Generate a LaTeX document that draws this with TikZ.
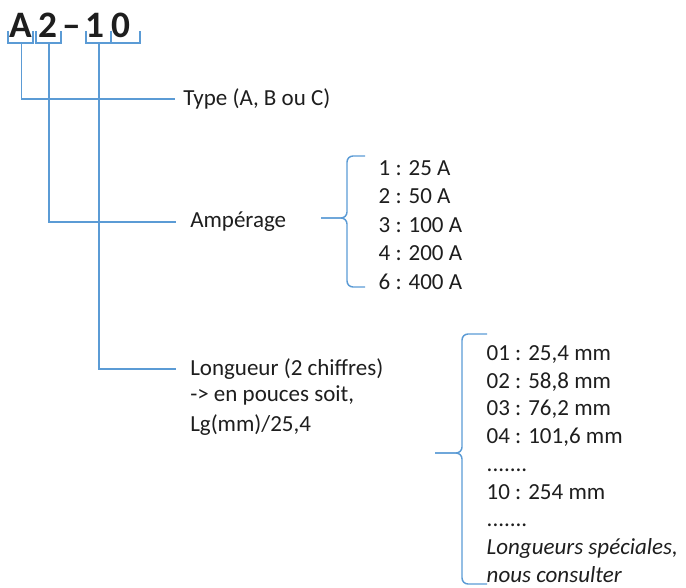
\documentclass[tikz,border=0pt]{standalone}
\usepackage{fontspec}
\setmainfont{Carlito}
\usetikzlibrary{positioning}

\definecolor{lienbleu}{RGB}{91,155,213}
\definecolor{texte}{RGB}{30,30,30}

\tikzset{
	lien/.style={draw=lienbleu,line width=1.1pt},
	accol/.style={lien,rounded corners=4.5pt},
	lettre/.style={anchor=base,inner sep=0pt,text=texte,font=\fontsize{28}{32}\selectfont\bfseries},
	libelle/.style={anchor=west,text=texte,font=\fontsize{17.25}{20.7}\selectfont},
}

\begin{document}
\begin{tikzpicture}[x=0.75pt,y=-0.75pt]
			\useasboundingbox (0,0) rectangle (686,588);
			% code produit
			\node[lettre] (cA) at (21,38) {A};
			\node[lettre] (c2) at (47.5,38) {2};
			\node[lettre] (ct) at (72,38) {--};
			\node[lettre] (c1) at (94.5,38) {1};
			\node[lettre] (c0) at (121,38) {0};
			\draw [lien] (8,31) |- (33,43) -- (33,31);
			\draw [lien] (36,31) |- (61,43) -- (61,31);
			\draw [lien] (86,31) |- (111,43) -- (111,31);
			\draw [lien] (111,43) -| (140,31);
			\coordinate (bA) at (21.5,43);
			\coordinate (b2) at (49,43);
			\coordinate (b1) at (99,43);
			% libelles
			\node[libelle,inner xsep=8pt*0.75] (type) at (175,99) {Type (A, B ou C)};
			\node[libelle,inner xsep=14pt*0.75] (amp) at (176,222) {Ampérage};
			\node[libelle,inner xsep=14pt*0.75] (lg) at (176,369) {Longueur (2 chiffres)};
			\node[libelle,anchor=north west,align=left,inner xsep=0pt,inner ysep=1pt,
				font=\fontsize{17.25}{22.5}\selectfont] (lgb) at ([xshift=14pt*0.75]lg.south west)
				{-> en pouces soit,\\ Lg(mm)/25,4};
			\draw [lien] (bA) |- (type.west);
			\draw [lien] (b2) |- (amp.west);
			\draw [lien] (b1) |- (lg.west);
			% valeurs
			\node[libelle,align=left,font=\fontsize{17.25}{21.4}\selectfont] (ampv) at (374,225)
				{1 : 25 A\\ 2 : 50 A\\ 3 : 100 A\\ 4 : 200 A\\ 6 : 400 A};
			\node[libelle,align=left,font=\fontsize{17.25}{20.8}\selectfont] (lgv) at (482,464)
				{01 : 25,4 mm\\ 02 : 58,8 mm\\ 03 : 76,2 mm\\ 04 : 101,6 mm\\ .......\\
				 10 : 254 mm\\ .......\\ \textit{Longueurs spéciales,}\\ \textit{nous consulter}};
			\draw [accol] (365,156) -| (347,218) -- (321,218);
			\draw [accol] (365,287) -| (347,218) -- (321,218);
			\draw [accol] (487,334) -| (462,453) -- (435,453);
			\draw [accol] (487,584) -| (462,453) -- (435,453);
		\end{tikzpicture}
\end{document}
